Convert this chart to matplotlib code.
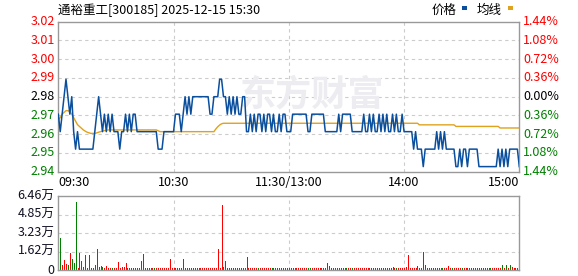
import numpy as np
import matplotlib
matplotlib.use("Agg")
import matplotlib.pyplot as plt
from matplotlib.patches import Rectangle

plt.rcParams['font.family'] = ['Noto Sans CJK SC', 'DejaVu Sans']

# ---------------- data ----------------
title = "通裕重工[300185] 2025-12-15 15:30"
prev_close = 2.98
pct_levels = [1.44, 1.08, 0.72, 0.36, 0.00, -0.36, -0.72, -1.08, -1.44]
time_labels = ["09:30", "10:30", "11:30/13:00", "14:00", "15:00"]
time_label_minutes = [0, 60, 120, 180, 240]

price = [
    2.97, 2.96, 2.97, 2.98, 2.99, 2.98, 2.97, 2.98, 2.96, 2.95,
    2.96, 2.95, 2.95, 2.95, 2.95, 2.95, 2.95, 2.95, 2.95, 2.96,
    2.97, 2.98, 2.97, 2.96, 2.97, 2.96, 2.97, 2.96, 2.97, 2.96,
    2.96, 2.96, 2.95, 2.96, 2.96, 2.97, 2.96, 2.97, 2.96, 2.97,
    2.97, 2.96, 2.96, 2.96, 2.96, 2.96, 2.96, 2.96, 2.96, 2.96,
    2.96, 2.96, 2.95, 2.95, 2.95, 2.96, 2.96, 2.96, 2.96, 2.96,
    2.96, 2.97, 2.97, 2.97, 2.96, 2.97, 2.98, 2.97, 2.98, 2.97,
    2.98, 2.98, 2.98, 2.98, 2.98, 2.98, 2.98, 2.98, 2.98, 2.97,
    2.97, 2.98, 2.98, 2.98, 2.99, 2.99, 2.98, 2.98, 2.97, 2.98,
    2.97, 2.98, 2.97, 2.98, 2.97, 2.97, 2.98, 2.98, 2.96, 2.96,
    2.97, 2.96, 2.97, 2.96, 2.97, 2.97, 2.96, 2.97, 2.96, 2.97,
    2.97, 2.96, 2.97, 2.96, 2.96, 2.97, 2.96, 2.97, 2.97, 2.96,
    2.96, 2.96, 2.97, 2.97, 2.97, 2.97, 2.97, 2.97, 2.97, 2.97,
    2.96, 2.96, 2.97, 2.97, 2.97, 2.97, 2.97, 2.97, 2.97, 2.96,
    2.96, 2.96, 2.96, 2.96, 2.96, 2.96, 2.97, 2.96, 2.97, 2.97,
    2.97, 2.97, 2.97, 2.96, 2.96, 2.96, 2.96, 2.96, 2.96, 2.97,
    2.96, 2.96, 2.97, 2.96, 2.97, 2.96, 2.96, 2.97, 2.96, 2.97,
    2.96, 2.97, 2.96, 2.96, 2.97, 2.96, 2.97, 2.96, 2.96, 2.97,
    2.96, 2.96, 2.96, 2.96, 2.96, 2.95, 2.96, 2.95, 2.95, 2.95,
    2.94, 2.95, 2.95, 2.95, 2.95, 2.95, 2.95, 2.96, 2.95, 2.96,
    2.95, 2.96, 2.95, 2.95, 2.95, 2.95, 2.95, 2.94, 2.94, 2.95,
    2.94, 2.95, 2.95, 2.94, 2.95, 2.95, 2.95, 2.95, 2.95, 2.94,
    2.94, 2.94, 2.94, 2.94, 2.94, 2.94, 2.94, 2.94, 2.94, 2.95,
    2.94, 2.95, 2.94, 2.95, 2.94, 2.95, 2.95, 2.95, 2.95, 2.95,
    2.94,
]

avg_price = [
    2.967, 2.968, 2.970, 2.971, 2.972, 2.972, 2.9715, 2.970, 2.968, 2.966,
    2.964, 2.963, 2.962, 2.961, 2.9603, 2.9597, 2.9593, 2.959, 2.959, 2.959,
    2.9593, 2.9597, 2.9600, 2.9603, 2.9606, 2.9608, 2.961, 2.961, 2.961, 2.961,
    2.961, 2.961, 2.961, 2.961, 2.961, 2.961, 2.961, 2.961, 2.961, 2.961,
    2.961, 2.961, 2.961, 2.961, 2.961, 2.961, 2.961, 2.961, 2.961, 2.961,
    2.961, 2.961, 2.9605, 2.960, 2.960, 2.960, 2.960, 2.960, 2.960, 2.960,
    2.960, 2.960, 2.960, 2.960, 2.960, 2.960, 2.960, 2.960, 2.960, 2.960,
    2.960, 2.960, 2.960, 2.960, 2.960, 2.960, 2.960, 2.960, 2.960, 2.960,
    2.960, 2.960, 2.9615, 2.9628, 2.9638, 2.9645, 2.9648, 2.9648, 2.9648, 2.9648,
    2.9648, 2.9648, 2.9648, 2.9648, 2.9648, 2.9648, 2.9648, 2.9648, 2.9648, 2.9648,
    2.9648, 2.9648, 2.9648, 2.9648, 2.9648, 2.9648, 2.9648, 2.9648, 2.9648, 2.9648,
    2.9648, 2.9648, 2.9648, 2.9648, 2.9648, 2.9648, 2.9648, 2.9648, 2.9648, 2.9648,
    2.9648, 2.9648, 2.9648, 2.9648, 2.9648, 2.9648, 2.9648, 2.9648, 2.9648, 2.9648,
    2.9648, 2.9648, 2.9648, 2.9648, 2.9648, 2.9648, 2.9648, 2.9648, 2.9648, 2.9648,
    2.9648, 2.9648, 2.9648, 2.9648, 2.9648, 2.9648, 2.9648, 2.9648, 2.9648, 2.9648,
    2.9648, 2.9648, 2.9648, 2.9648, 2.9648, 2.9648, 2.9648, 2.9648, 2.9648, 2.9648,
    2.9648, 2.9648, 2.9648, 2.9648, 2.9648, 2.9648, 2.9648, 2.9648, 2.9648, 2.9648,
    2.9648, 2.9648, 2.9648, 2.9648, 2.9648, 2.9648, 2.9648, 2.9648, 2.9648, 2.9648,
    2.9648, 2.9648, 2.9648, 2.9648, 2.9648, 2.9648, 2.9648, 2.9648, 2.9639, 2.9639,
    2.9639, 2.9639, 2.9639, 2.9639, 2.9639, 2.9639, 2.9639, 2.9639, 2.9639, 2.9639,
    2.9639, 2.9639, 2.9639, 2.9639, 2.9639, 2.9639, 2.9639, 2.9630, 2.9630, 2.9630,
    2.9630, 2.9630, 2.9630, 2.9630, 2.9630, 2.9630, 2.9630, 2.9630, 2.9630, 2.9630,
    2.9630, 2.9630, 2.9630, 2.9630, 2.9630, 2.9630, 2.9630, 2.9630, 2.9630, 2.9630,
    2.9621, 2.9621, 2.9621, 2.9621, 2.9621, 2.9621, 2.9621, 2.9621, 2.9621, 2.9621,
    2.9621,
]

volume = [
    600, 27600, 4400, 8700, 5200, 4400, 15100, 9600, 6400, 59400,
    2000, 14800, 7900, 2300, 13100, 1500, 13100, 1500, 1500, 4400,
    18300, 2300, 3500, 2300, 1500, 3500, 1500, 1500, 1800, 1500,
    1500, 7300, 1500, 2300, 2300, 6400, 1500, 1500, 1500, 1500,
    1500, 1500, 1500, 7900, 14000, 1500, 1500, 1500, 2000, 1500,
    1500, 1500, 1500, 1500, 1800, 1500, 1500, 1500, 9600, 1500,
    1500, 1500, 1500, 1500, 1500, 9600, 1500, 1500, 1500, 1500,
    1500, 1500, 1500, 1500, 1500, 1500, 1500, 1500, 1500, 1500,
    1500, 1500, 1500, 18300, 1500, 57000, 2300, 8100, 1500, 1500,
    1500, 1500, 1500, 1500, 1500, 1500, 1500, 1500, 11300, 1500,
    1500, 1500, 1500, 1500, 1500, 1500, 1500, 1500, 1500, 1500,
    1500, 1800, 1500, 1500, 1500, 1500, 1500, 1500, 1500, 1500,
    1500, 1500, 1500, 1500, 1800, 1500, 1500, 1500, 1500, 1500,
    1500, 1500, 1500, 1500, 1500, 1500, 1500, 1500, 1500, 1500,
    6100, 3500, 1800, 1500, 1500, 1500, 1500, 1500, 1500, 1500,
    1500, 1500, 1500, 1500, 1500, 1500, 1500, 1500, 1500, 1500,
    1500, 1800, 1500, 1500, 1500, 1500, 1500, 1500, 1500, 1500,
    1500, 1500, 1500, 1500, 2600, 1500, 1500, 1500, 1500, 1500,
    1500, 2600, 13100, 1500, 1500, 1500, 1500, 3500, 1500, 1500,
    16000, 4400, 1500, 1500, 1500, 1500, 1500, 1500, 1500, 1500,
    1500, 1500, 1500, 3500, 1500, 1500, 1500, 1500, 1500, 1500,
    1500, 1500, 1500, 1500, 1800, 1500, 1500, 1500, 1500, 1500,
    1500, 1500, 1500, 1500, 1500, 1500, 1500, 1500, 1500, 1500,
    1500, 4400, 2000, 4400, 1500, 4400, 2300, 1500, 1500, 1500,
    3500,
]
green_minutes = [1, 5, 7, 8, 9, 11, 22, 23, 28, 50, 70, 98, 104, 111, 118,
                 130, 131, 140, 150, 153, 165, 170, 174, 176, 191, 195, 200,
                 205, 210, 220, 225, 231, 233, 235, 240]
vol_max = 64620

# ---------------- figure ----------------
W, H = 578, 276
fig = plt.figure(figsize=(W / 100, H / 100), dpi=100)
fig.patch.set_facecolor("white")

def fx(px):
    return px / W

def fy(py):
    return 1 - py / H

L, R = 58.3, 519.3
ax1 = fig.add_axes([fx(L), fy(171.7), fx(R - L), 150 / H])
ax2 = fig.add_axes([fx(L), fy(270), fx(R - L), 74 / H])

minutes = np.arange(len(price))
frame_c = "#999999"
grid_c = "#cccccc"
red_c = "#ff0000"
green_c = "#008000"
blue_c = "#0a4f9e"
orange_c = "#e0a21c"

for ax in (ax1, ax2):
    ax.set_xlim(0, 240)
    ax.set_xticks([])
    ax.set_yticks([])
    for s in ax.spines.values():
        s.set_color(frame_c)
        s.set_linewidth(1.0)
    for m in [60, 120, 180]:
        ax.axvline(m, color=grid_c, lw=0.8, ls=(0, (3, 3)), zorder=0)

# ---- price panel ----
levels = [prev_close * (1 + p / 100) for p in pct_levels]
ax1.set_ylim(min(levels), max(levels))
for lv in levels[1:-1]:
    ax1.axhline(lv, color=grid_c, lw=0.8, ls=(0, (3, 3)), zorder=0)

ax1.text(0.55, 0.51, "东方财富", transform=ax1.transAxes, ha="center",
         va="center", fontsize=26, fontweight="bold", color="#ededf1",
         zorder=0)

ax1.plot(minutes, avg_price, color=orange_c, lw=1.0, zorder=2)
ax1.plot(minutes, price, color=blue_c, lw=1.1, zorder=3)

for p, lv in zip(pct_levels, levels):
    c = red_c if p > 0 else (green_c if p < 0 else "#000000")
    ax1.text(-0.008, lv, f"{lv:.2f}", transform=ax1.get_yaxis_transform(),
             ha="right", va="center", fontsize=9, color=c)
    ax1.text(1.008, lv, f"{abs(p):.2f}%", transform=ax1.get_yaxis_transform(),
             ha="left", va="center", fontsize=9, color=c)

for m, t in zip(time_label_minutes, time_labels):
    ha = "left" if m == 0 else ("right" if m == 240 else "center")
    ax1.text(m, fy(183), t, transform=matplotlib.transforms.blended_transform_factory(
        ax1.transData, fig.transFigure), ha=ha, va="center", fontsize=9,
        color="#000000")

# ---- volume panel ----
ax2.set_ylim(0, vol_max)
vticks = [vol_max * k / 4 for k in range(5)]
for v in vticks[1:-1]:
    ax2.axhline(v, color=grid_c, lw=0.8, ls=(0, (3, 3)), zorder=0)
colors = [green_c if i in green_minutes else red_c for i in range(len(volume))]
ax2.vlines(minutes, 0, volume, colors=colors, linewidth=0.5,
           antialiased=False, zorder=2)
for v in vticks:
    lab = "0" if v == 0 else f"{v / 1e4:.2f}万"
    ax2.text(-0.008, v, lab, transform=ax2.get_yaxis_transform(),
             ha="right", va="center", fontsize=9, color="#111122")

# ---- title & legend ----
fig.text(fx(58), fy(10), title, ha="left", va="center", fontsize=9,
         color="#000000")
fig.text(fx(432), fy(10), "价格", ha="left", va="center", fontsize=9,
         color="#000000")
fig.text(fx(477), fy(10), "均线", ha="left", va="center", fontsize=9,
         color="#000000")
fig.add_artist(Rectangle((fx(462), fy(9.5)), 5 / W, 3 / H,
                         transform=fig.transFigure, color=blue_c, lw=0))
fig.add_artist(Rectangle((fx(508), fy(9.5)), 5 / W, 3 / H,
                         transform=fig.transFigure, color=orange_c, lw=0))

fig.savefig("out.png", dpi=100, facecolor="white")
